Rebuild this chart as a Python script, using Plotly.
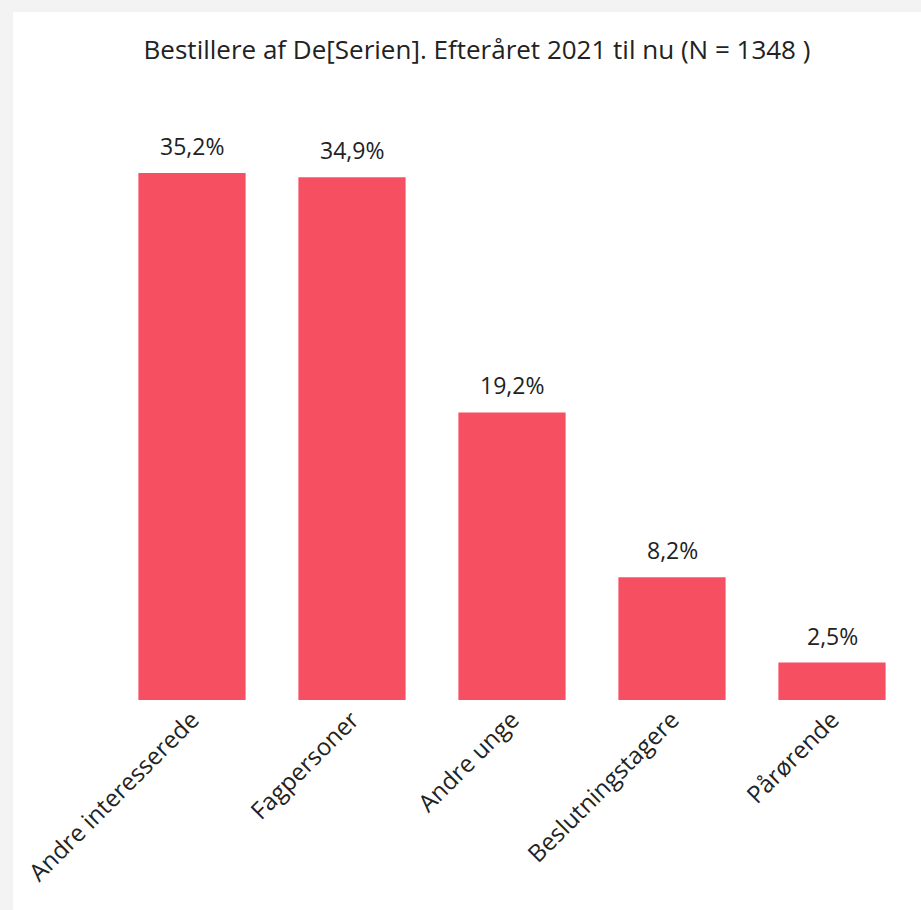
import plotly.graph_objects as go

categories = ["Andre interesserede", "Fagpersoner", "Andre unge", "Beslutningstagere", "Pårørende"]
values = [35.2, 34.9, 19.2, 8.2, 2.5]
labels = ["35,2%", "34,9%", "19,2%", "8,2%", "2,5%"]
title = "Bestillere af De[Serien]. Efteråret 2021 til nu (N = 1348 )"

W, H = 921, 910
ml, mr, mt, mb = 112, 9, 101, 210
FONT = "Open Sans, DejaVu Sans, sans-serif"

fig = go.Figure(go.Bar(
    x=categories, y=values,
    marker=dict(color="#F74F62", line=dict(width=0)),
    hoverinfo="skip",
))

for c, v, t in zip(categories, values, labels):
    fig.add_annotation(x=c, y=v, text=t, showarrow=False, yanchor="bottom",
                       yshift=9, font=dict(size=23, color="#222222", family=FONT))

fig.update_layout(
    width=W, height=H,
    margin=dict(l=ml, r=mr, t=mt, b=mb, autoexpand=False),
    paper_bgcolor="#F3F3F3",
    plot_bgcolor="rgba(0,0,0,0)",
    font=dict(family=FONT, color="#222222"),
    title=dict(text=title, x=477 / W, xref="container", xanchor="center",
               y=1 - 50 / H, yref="container", yanchor="middle",
               font=dict(size=26, color="#222222")),
    bargap=0.33,
    showlegend=False,
    xaxis=dict(tickangle=-45, tickfont=dict(size=24, color="#222222"),
               showline=False, showgrid=False, ticks="", ticklen=0, automargin=False),
    yaxis=dict(range=[0, 40], visible=False),
    shapes=[dict(type="rect", xref="paper", yref="paper",
                 x0=(13 - ml) / (W - ml - mr), x1=(W + 20 - ml) / (W - ml - mr),
                 y0=(0 - mb) / (H - mt - mb) - 0.5, y1=(H - 12 - mb) / (H - mt - mb),
                 fillcolor="white", line=dict(width=0), layer="below")],
)

fig.write_html("out.html", config={"displayModeBar": False},
               post_script="document.body.style.margin='0';document.body.style.background='#F3F3F3';")
